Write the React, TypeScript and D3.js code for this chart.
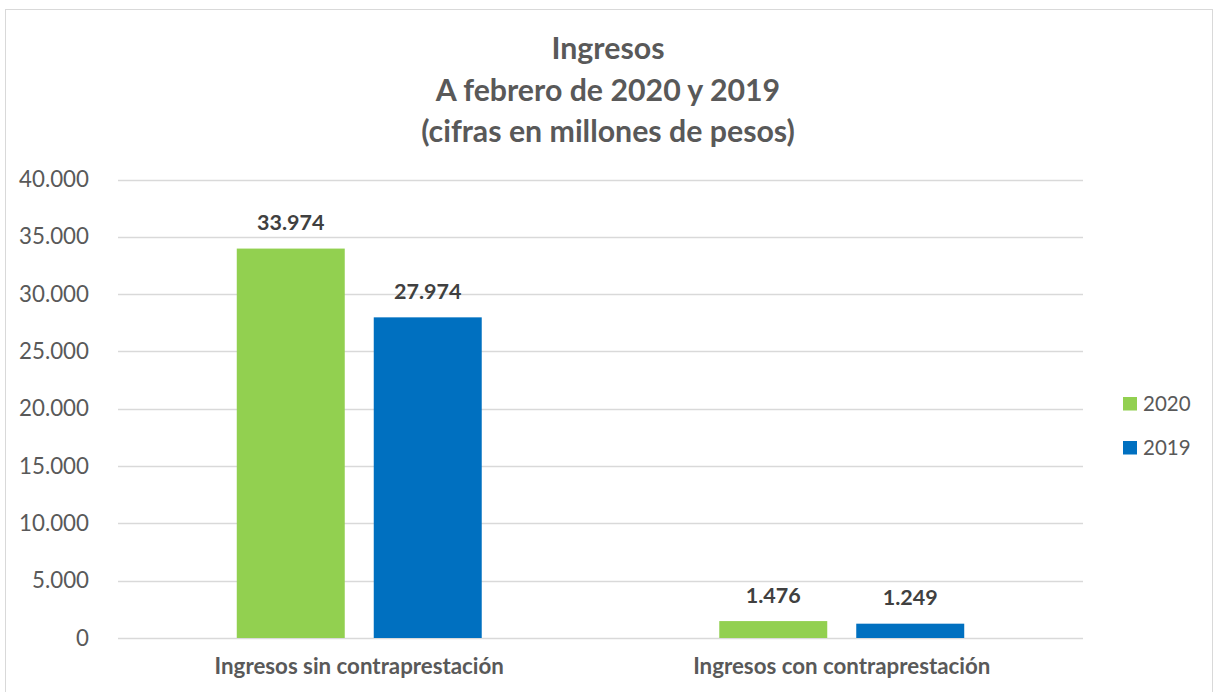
import React from "react";
import * as d3 from "d3";

const categories = ["Ingresos sin contraprestación", "Ingresos con contraprestación"];
const seriesNames = ["2020", "2019"];
const values2020 = [33974, 1476];
const values2019 = [27974, 1249];
const yTicks = [0, 5000, 10000, 15000, 20000, 25000, 30000, 35000, 40000];
const titleLines = ["Ingresos", "A febrero de 2020 y 2019", "(cifras en millones de pesos)"];
const colors = ["#92D050", "#0070C0"];

const W = 1214;
const H = 692;
const FONT = "Lato, 'Open Sans', sans-serif";

const fmt = (v: number) => d3.format(",")(v).replace(/,/g, ".");

export default function App() {
  const plotLeft = 118;
  const plotRight = 1083;
  const plotTop = 179.5;
  const plotBottom = 638;

  const y = d3.scaleLinear().domain([0, 40000]).range([plotBottom, plotTop]);
  const x0 = d3.scaleBand<string>().domain(categories).range([plotLeft, plotRight]).padding(0);
  const x1 = d3
    .scaleBand<string>()
    .domain(seriesNames)
    .range([0, x0.bandwidth()])
    .paddingInner(0.2117)
    .paddingOuter(0.867);

  const seriesValues = [values2020, values2019];

  return (
    <svg
      width={W}
      height={H}
      style={{ position: "absolute", left: 0, top: 0, background: "#fff" }}
      fontFamily={FONT}
    >
      <rect x={5.5} y={9.5} width={1207} height={720} fill="#fff" stroke="#D9D9D9" strokeWidth={1} />

      {titleLines.map((t, i) => (
        <text
          key={i}
          x={608}
          y={59 + i * 41.5}
          textAnchor="middle"
          fontWeight="bold"
          fontSize={30.3}
          fill="#595959"
        >
          {t}
        </text>
      ))}

      {yTicks.map((t) => (
        <g key={t}>
          <line
            x1={plotLeft}
            x2={plotRight}
            y1={Math.round(y(t)) + 0.5}
            y2={Math.round(y(t)) + 0.5}
            stroke="#D9D9D9"
            strokeWidth={1.5}
          />
          <text x={89} y={y(t) + 7.5} textAnchor="end" fontSize={22.3} fill="#595959">
            {fmt(t)}
          </text>
        </g>
      ))}

      {categories.map((c, ci) => (
        <g key={c}>
          {seriesNames.map((s, si) => {
            const v = seriesValues[si][ci];
            const bx = (x0(c) as number) + (x1(s) as number);
            return (
              <g key={s}>
                <rect
                  x={bx}
                  y={y(v)}
                  width={x1.bandwidth()}
                  height={y(0) - y(v)}
                  fill={colors[si]}
                />
                <text
                  x={bx + x1.bandwidth() / 2}
                  y={y(v) - 18.5}
                  textAnchor="middle"
                  fontWeight="bold"
                  fontSize={21.5}
                  fill="#404040"
                >
                  {fmt(v)}
                </text>
              </g>
            );
          })}
          <text
            x={(x0(c) as number) + x0.bandwidth() / 2}
            y={674}
            textAnchor="middle"
            fontWeight="bold"
            fontSize={22.3}
            fill="#595959"
          >
            {c}
          </text>
        </g>
      ))}

      {seriesNames.map((s, i) => (
        <g key={s}>
          <rect x={1123} y={397 + i * 44} width={14} height={13.5} fill={colors[i]} />
          <text x={1143} y={410.5 + i * 44} fontSize={20.5} fill="#595959">
            {s}
          </text>
        </g>
      ))}
    </svg>
  );
}
